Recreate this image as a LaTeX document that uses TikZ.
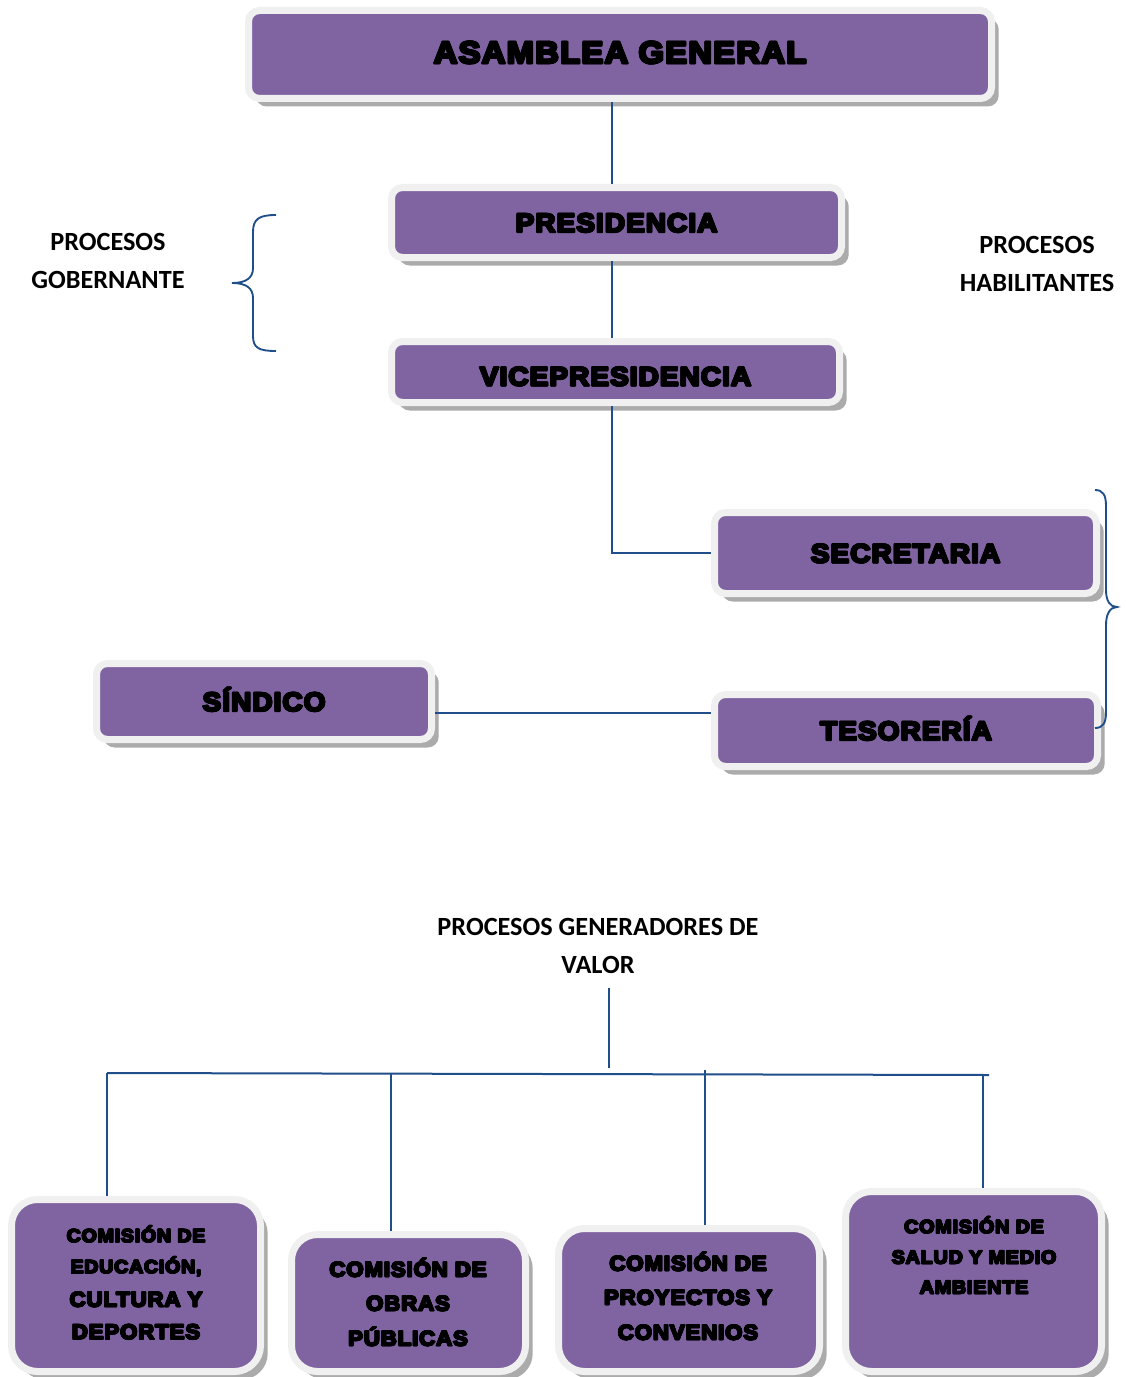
\documentclass[tikz,border=0pt]{standalone}
\usepackage{fontspec}
\usetikzlibrary{shadows}
\newfontfamily\blk{Liberation Sans}[BoldFeatures={FakeBold=3,FakeStretch=1.06,LetterSpace=4}]
\newfontfamily\lab{Carlito}
\definecolor{purp}{HTML}{8064A2}
\definecolor{edgegray}{HTML}{F0F0F0}
\definecolor{shadgray}{HTML}{ABABAB}
\definecolor{lineblue}{HTML}{1F4E8A}
\newcommand\hvy[1]{\leavevmode\rlap{\kern0.026em#1}\rlap{\kern-0.026em#1}%
  \rlap{\raisebox{0.026em}{#1}}\rlap{\raisebox{-0.026em}{#1}}%
  \rlap{\kern0.019em\raisebox{0.019em}{#1}}\rlap{\kern-0.019em\raisebox{0.019em}{#1}}%
  \rlap{\kern0.019em\raisebox{-0.019em}{#1}}\rlap{\kern-0.019em\raisebox{-0.019em}{#1}}#1}
\begin{document}
\begin{tikzpicture}[x=0.75pt,y=-0.75pt,
  box/.style={rectangle, rounded corners=8.25pt, draw=edgegray, line width=5.25pt,
    fill=purp, inner sep=0pt, outer sep=2.625pt, text depth=0pt,
    general shadow={fill=shadgray, shadow xshift=5.4pt, shadow yshift=-6pt}},
  cbox/.style={box, rounded corners=19.5pt},
  bigtxt/.style={font=\blk\bfseries\fontsize{23.2pt}{26pt}\selectfont, text height=12.9pt},
  midtxt/.style={font=\blk\bfseries\fontsize{19.8pt}{22pt}\selectfont, text height=14.2pt},
  ctxt/.style={anchor=base, inner sep=0pt, text depth=0pt, font=\blk\bfseries\fontsize{#1}{#1}\selectfont},
  lbl/.style={align=center, inner sep=0pt, font=\lab\bfseries\fontsize{19.7pt}{28.5pt}\selectfont},
  conn/.style={draw=lineblue, line width=1.5pt},
  brace/.style={draw=lineblue, line width=1.4pt}]
\useasboundingbox (0,0) rectangle (1126,1377);

% coordinates for connectors
\coordinate (vx) at (612,0);
\coordinate (hy) at (0,713);
\coordinate (gtop) at (609,988);
\coordinate (gbot) at (609,1068);
\coordinate (bl) at (107,1073);
\coordinate (br) at (989,1075);
\coordinate (b2) at (391,1074);
\coordinate (b3) at (705,1070);
\coordinate (b4) at (983,1075);

% connectors (drawn first, behind boxes)
\draw[conn] (gtop) -- (gbot);
\draw[conn] (bl) -- (br);

% boxes
\node[box, minimum width=557.25pt, minimum height=66pt, bigtxt] (asm) at (620,54.5) {\hvy{ASAMBLEA GENERAL}};
\node[box, minimum width=337.5pt, minimum height=52.5pt, midtxt] (pres) at (616.5,222.5) {\hvy{PRESIDENCIA}};
\node[box, minimum width=336pt, minimum height=45.75pt, midtxt, text height=20.2pt] (vice) at (615.5,372) {\hvy{VICEPRESIDENCIA}};
\node[box, minimum width=286.5pt, minimum height=60.75pt, midtxt] (secr) at (905.5,553) {\hvy{SECRETARIA}};
\node[box, minimum width=287.25pt, minimum height=54pt, midtxt] (teso) at (906,730.5) {\hvy{TESORERÍA}};
\node[box, minimum width=251.25pt, minimum height=57pt, midtxt] (sind) at (264,701.5) {\hvy{SÍNDICO}};

\node[cbox, minimum width=186.75pt, minimum height=129pt] (edu) at (136,1285.5) {};
\node[cbox, minimum width=175.5pt, minimum height=102.75pt] (obras) at (408.5,1303) {};
\node[cbox, minimum width=195.75pt, minimum height=107.25pt] (proy) at (689,1300) {};
\node[cbox, minimum width=192pt, minimum height=135pt] (salud) at (973.5,1281.5) {};

% connectors between boxes
\draw[conn] (vx |- asm.south) -- (vx |- pres.north);
\draw[conn] (vx |- pres.south) -- (vx |- vice.north);
\draw[conn] (vx |- vice.south) |- (secr.west);
\draw[conn] (sind.east |- hy) -- (teso.west |- hy);
\draw[conn] (bl) -- (bl |- edu.north);
\draw[conn] (b2) -- (b2 |- obras.north);
\draw[conn] (b3) -- (b3 |- proy.north);
\draw[conn] (b4) -- (b4 |- salud.north);

% commission texts
\node[ctxt=13.9pt] (edu1) at (136,1242) {\hvy{COMISIÓN DE}};
\node[ctxt=13.9pt] (edu2) at (136,1273) {\hvy{EDUCACIÓN,}};
\node[ctxt=15.75pt] (edu3) at (136,1306.5) {\hvy{CULTURA Y}};
\node[ctxt=15.75pt] (edu4) at (136,1339) {\hvy{DEPORTES}};

\node[ctxt=15.75pt] (obr1) at (408,1276.5) {\hvy{COMISIÓN DE}};
\node[ctxt=15.75pt] (obr2) at (408,1310.5) {\hvy{OBRAS}};
\node[ctxt=15.75pt] (obr3) at (408,1345.5) {\hvy{PÚBLICAS}};

\node[ctxt=15.75pt] (pro1) at (688,1270.5) {\hvy{COMISIÓN DE}};
\node[ctxt=15.75pt] (pro2) at (688,1304.5) {\hvy{PROYECTOS Y}};
\node[ctxt=15.75pt] (pro3) at (688,1339.5) {\hvy{CONVENIOS}};

\node[ctxt=14pt] (sal1) at (974,1233) {\hvy{COMISIÓN DE}};
\node[ctxt=14pt] (sal2) at (974,1263.5) {\hvy{SALUD Y MEDIO}};
\node[ctxt=14pt] (sal3) at (974,1293.5) {\hvy{AMBIENTE}};

% labels
\node[lbl] (gob) at (108,261) {PROCESOS\\GOBERNANTE};
\node[lbl] (hab) at (1037,263.5) {PROCESOS\\HABILITANTES};
\node[lbl] (gen) at (598,946) {PROCESOS GENERADORES DE\\VALOR};

% braces
\draw[brace] (276,215) .. controls (259,215) and (253,219) .. (253,232) -- (253,268)
  .. controls (253,278) and (246,283) .. (232,283)
  .. controls (246,283) and (253,288) .. (253,298) -- (253,336)
  .. controls (253,348) and (259,351) .. (276,351);
\draw[brace] (1095,490) .. controls (1103,490) and (1106,495) .. (1106,506) -- (1106,590)
  .. controls (1106,601) and (1110,607) .. (1117,607)
  .. controls (1110,607) and (1106,614) .. (1106,625) -- (1106,712)
  .. controls (1106,723) and (1103,728) .. (1095,728);
\end{tikzpicture}
\end{document}
